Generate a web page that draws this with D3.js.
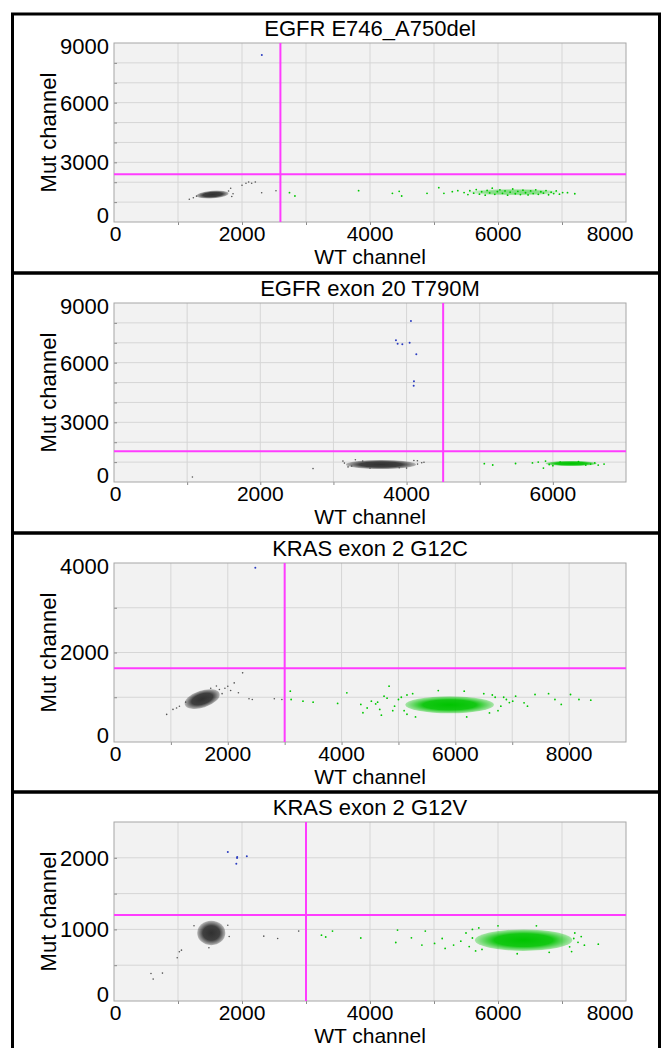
<!DOCTYPE html>
<html>
<head>
<meta charset="utf-8">
<script src="https://cdn.jsdelivr.net/npm/d3@7"></script>
<style>
  body { margin: 0; background: #fff; }
  svg { display: block; font-family: "Liberation Sans", Arial, Helvetica, sans-serif; }
</style>
</head>
<body>
<svg id="chart"></svg>
<script>
// ---- data, one entry per panel (top to bottom) ----
const titles = ["EGFR E746_A750del", "EGFR exon 20 T790M", "KRAS exon 2 G12C", "KRAS exon 2 G12V"];
const xMax = [8000, 7000, 9000, 8000];
const yMax = [9000, 9000, 4000, 2500];
const xLabelStep = [2000, 2000, 2000, 2000];
const yLabelStep = [3000, 3000, 2000, 1000];
const yGridStep = [1000, 1000, 1000, 500];

// threshold lines (WT channel, Mut channel)
const wtThreshold = [2600, 4500, 3000, 3000];
const mutThreshold = [2400, 1550, 1650, 1200];

// dense droplet clusters: [centre WT, centre Mut, half-width WT, half-height Mut, tilt deg]
const negClusters = [
  [1540, 1380, 250, 190, -4],
  [3650, 880, 480, 230, 0],
  [1550, 960, 320, 190, -18],
  [1520, 950, 220, 170, 0]
];
const wtClusters = [
  [6250, 1500, 720, 170, 0],
  [6250, 930, 350, 130, 0],
  [5900, 830, 780, 190, 0],
  [6400, 850, 760, 150, 0]
];

// single droplets outside the dense cores
const negDrops = [
  [[1177,1141],[1240,1220],[1290,1300],[1823,1694],[1790,1560],[1860,1420],[1840,1280],[2000,1845],[2062,1945],[2104,2011],[2151,1945],[2208,2011],[2307,1473],[2531,1574]],
  [[1072,251],[2721,674],[3130,1050],[3150,950],[3200,760],[3250,800],[3400,1050],[3500,700],[3900,720],[4000,700],[4100,1080],[4148,1070],[4150,900],[4207,970],[4238,990],[3300,1120]],
  [[926,617],[1037,728],[1100,760],[1150,800],[1260,890],[1700,1200],[1800,1250],[1853,1173],[1900,1080],[1950,1200],[2000,1247],[2050,1150],[2113,1321],[2187,1100],[2261,1545],[2373,966],[2431,950],[2818,966],[2951,950]],
  [[578,385],[612,306],[757,390],[988,604],[1021,687],[1054,710],[1250,1050],[1483,743],[1778,1059],[1800,900],[2340,906],[2557,873],[2886,976]]
];
const mutDrops = [
  [[2310,8400]],
  [[4060,8095],[3855,7125],[3878,6955],[3942,6923],[4042,7005],[4133,6420],[4101,5063],[4097,4843]],
  [[2484,3896]],
  [[1778,2081],[1923,1998],[1911,1918],[2075,2021],[1925,2010]]
];
const wtDrops = [
  [[2742,1474],[2827,1307],[3822,1575],[4350,1441],[4456,1542],[4495,1307],[4891,1441],[5075,1727],[5155,1441],[5286,1525],[5372,1575],
   [5470,1480],[5530,1380],[5560,1570],[5620,1450],[5660,1630],[5710,1400],[5745,1520],[5800,1350],[5830,1590],[5870,1460],[5910,1700],
   [5950,1390],[5990,1530],[6030,1620],[6070,1440],[6110,1560],[6150,1350],[6190,1500],[6230,1660],[6270,1420],[6310,1540],[6350,1380],
   [6390,1600],[6430,1470],[6470,1360],[6510,1560],[6550,1430],[6590,1620],[6630,1390],[6670,1520],[6710,1450],[6750,1580],[6790,1370],
   [6830,1500],[6870,1430],[6910,1560],[6960,1400],[7010,1480],[7086,1474],[7200,1420]],
  [[5063,920],[5178,855],[5490,930],[5721,960],[5800,1000],[5871,700],[5900,1050],[5950,880],[6000,820],[6100,1000],[6350,1020],[6450,850],
   [6516,900],[6573,960],[6620,850],[6700,900]],
  [[3099,1135],[3114,950],[3322,913],[3500,890],[3931,861],[4093,1100],[4339,839],[4376,654],[4450,760],[4524,913],[4600,850],[4634,890],
   [4671,728],[4700,600],[4747,1024],[4800,980],[4835,1247],[4900,700],[4932,801],[5000,950],[5050,1000],[5100,700],[5150,1050],[5150,620],
   [5250,1080],[5300,560],[5700,1150],[6156,1135],[6200,560],[6500,1080],[6600,650],[6650,1050],[6700,1000],[6750,700],[6800,800],
   [6850,1000],[6897,950],[6950,880],[7009,913],[7060,1024],[7208,876],[7268,801],[7401,1061],[7639,1080],[7751,950],[7862,839],
   [8025,1061],[8173,950],[8381,935]],
  [[3242,920],[3308,894],[3414,976],[3856,880],[4403,817],[4430,990],[4647,882],[4811,781],[4864,976],[5009,804],[5128,873],[5174,734],
   [5306,781],[5419,836],[5500,950],[5550,760],[5600,880],[5600,1000],[5650,700],[5700,1020],[5750,720],[6000,1050],[6300,660],[6600,1050],
   [6800,680],[7119,757],[7150,690],[7184,873],[7200,950],[7250,820],[7300,900],[7350,780],[7567,794]]
];

// ---- layout ----
const width = 662, height = 1048;
const plotLeft = 114, plotRight = 626, plotH = 179;
const panelTop = [14, 273, 533, 792];
const plotOffset = [29, 30, 30, 30];

const colors = { neg: "#555", wt: "#00c800", mut: "#2a3cc0", line: "#ff3cff" };

const svg = d3.select("#chart").attr("width", width).attr("height", height);
svg.append("rect").attr("width", width).attr("height", height).attr("fill", "#fff");

const defs = svg.append("defs");
function addGradient(id, col, edgeOpacity) {
  const grad = defs.append("radialGradient").attr("id", id);
  grad.append("stop").attr("offset", "0%").attr("stop-color", col).attr("stop-opacity", 1);
  grad.append("stop").attr("offset", "60%").attr("stop-color", col).attr("stop-opacity", 0.92);
  grad.append("stop").attr("offset", "100%").attr("stop-color", col).attr("stop-opacity", edgeOpacity);
}
addGradient("gradNeg", "#303030", 0.3);
addGradient("gradWt", "#00c400", 0.3);
addGradient("gradWtSparse", "#22cc22", 0.05);

titles.forEach((title, i) => {
  const top = panelTop[i] + plotOffset[i];
  const bottom = top + plotH;
  const boxBottom = i < 3 ? panelTop[i + 1] : height + 10;

  const x = d3.scaleLinear().domain([0, xMax[i]]).range([plotLeft, plotRight]);
  const y = d3.scaleLinear().domain([0, yMax[i]]).range([bottom, top]);

  const g = svg.append("g");

  // panel frame
  g.append("rect")
    .attr("x", 12.5).attr("y", panelTop[i])
    .attr("width", 647).attr("height", boxBottom - panelTop[i])
    .attr("fill", "none").attr("stroke", "#000").attr("stroke-width", 3);

  // plot area
  g.append("rect")
    .attr("x", plotLeft).attr("y", top)
    .attr("width", plotRight - plotLeft).attr("height", plotH)
    .attr("fill", "#f2f2f2");

  // grid
  g.append("g").selectAll("line")
    .data(d3.range(1000, xMax[i], 1000))
    .join("line")
      .attr("x1", d => x(d)).attr("x2", d => x(d))
      .attr("y1", top).attr("y2", bottom)
      .attr("stroke", "#d6d6d6").attr("stroke-width", 1);
  g.append("g").selectAll("line")
    .data(d3.range(yGridStep[i], yMax[i], yGridStep[i]))
    .join("line")
      .attr("x1", plotLeft).attr("x2", plotRight)
      .attr("y1", d => y(d)).attr("y2", d => y(d))
      .attr("stroke", "#d6d6d6").attr("stroke-width", 1);

  // small ticks on the axes
  g.append("g")
    .attr("transform", `translate(0,${bottom})`)
    .call(d3.axisBottom(x).tickValues(d3.range(1000, xMax[i], 1000)).tickSize(3).tickFormat(""))
    .call(a => a.select(".domain").remove())
    .selectAll("line").attr("stroke", "#8a8a8a");
  g.append("g")
    .attr("transform", `translate(${plotLeft},0)`)
    .call(d3.axisRight(y).tickValues(d3.range(yGridStep[i], yMax[i], yGridStep[i])).tickSize(3).tickFormat(""))
    .call(a => a.select(".domain").remove())
    .selectAll("line").attr("stroke", "#8a8a8a");

  g.append("rect")
    .attr("x", plotLeft).attr("y", top)
    .attr("width", plotRight - plotLeft).attr("height", plotH)
    .attr("fill", "none").attr("stroke", "#a6a6a6").attr("stroke-width", 1);

  // droplets, clipped to the plot
  const clipId = "clip" + i;
  defs.append("clipPath").attr("id", clipId)
    .append("rect").attr("x", plotLeft).attr("y", top)
    .attr("width", plotRight - plotLeft).attr("height", plotH);
  const dots = g.append("g").attr("clip-path", `url(#${clipId})`);

  function drawCluster(c, fill, opacity) {
    const cx = x(c[0]), cy = y(c[1]);
    dots.append("ellipse")
      .attr("cx", cx).attr("cy", cy)
      .attr("rx", x(c[0] + c[2]) - cx)
      .attr("ry", cy - y(c[1] + c[3]))
      .attr("transform", `rotate(${c[4]},${cx},${cy})`)
      .attr("fill", fill)
      .attr("opacity", opacity);
  }
  drawCluster(negClusters[i], "url(#gradNeg)", 1);
  drawCluster(wtClusters[i], i === 0 ? "url(#gradWtSparse)" : "url(#gradWt)", i === 0 ? 0.55 : 1);

  function drawDrops(list, col, r) {
    dots.append("g").selectAll("circle")
      .data(list)
      .join("circle")
        .attr("cx", d => x(d[0]))
        .attr("cy", d => y(d[1]))
        .attr("r", r)
        .attr("fill", col);
  }
  drawDrops(negDrops[i], colors.neg, 0.8);
  drawDrops(wtDrops[i], colors.wt, 0.9);
  drawDrops(mutDrops[i], colors.mut, 1);

  // thresholds
  g.append("line")
    .attr("x1", x(wtThreshold[i])).attr("x2", x(wtThreshold[i]))
    .attr("y1", top).attr("y2", bottom)
    .attr("stroke", colors.line).attr("stroke-width", 2);
  g.append("line")
    .attr("x1", plotLeft).attr("x2", plotRight)
    .attr("y1", y(mutThreshold[i])).attr("y2", y(mutThreshold[i]))
    .attr("stroke", colors.line).attr("stroke-width", 2);

  // tick labels (end labels are pulled inside like the original software does)
  g.append("g").selectAll("text")
    .data(d3.range(0, xMax[i] + 1, xLabelStep[i]))
    .join("text")
      .attr("x", d => Math.min(Math.max(x(d), plotLeft + 1.5), plotRight - 16))
      .attr("y", bottom + 18.5)
      .attr("text-anchor", "middle")
      .attr("font-size", 21)
      .text(d3.format("d"));
  g.append("g").selectAll("text")
    .data(d3.range(0, yMax[i] + 1, yLabelStep[i]))
    .join("text")
      .attr("x", plotLeft - 5)
      .attr("y", d => Math.min(Math.max(y(d), top + 3), bottom - 7))
      .attr("dy", "0.36em")
      .attr("text-anchor", "end")
      .attr("font-size", 22)
      .text(d3.format("d"));

  // titles
  g.append("text")
    .attr("x", (plotLeft + plotRight) / 2)
    .attr("y", top - 7)
    .attr("text-anchor", "middle")
    .attr("font-size", 22)
    .text(title);
  g.append("text")
    .attr("x", (plotLeft + plotRight) / 2)
    .attr("y", bottom + 42)
    .attr("text-anchor", "middle")
    .attr("font-size", 21)
    .text("WT channel");
  g.append("text")
    .attr("transform", `translate(56,${(top + bottom) / 2}) rotate(-90)`)
    .attr("text-anchor", "middle")
    .attr("font-size", 22)
    .text("Mut channel");
});
</script>
</body>
</html>
